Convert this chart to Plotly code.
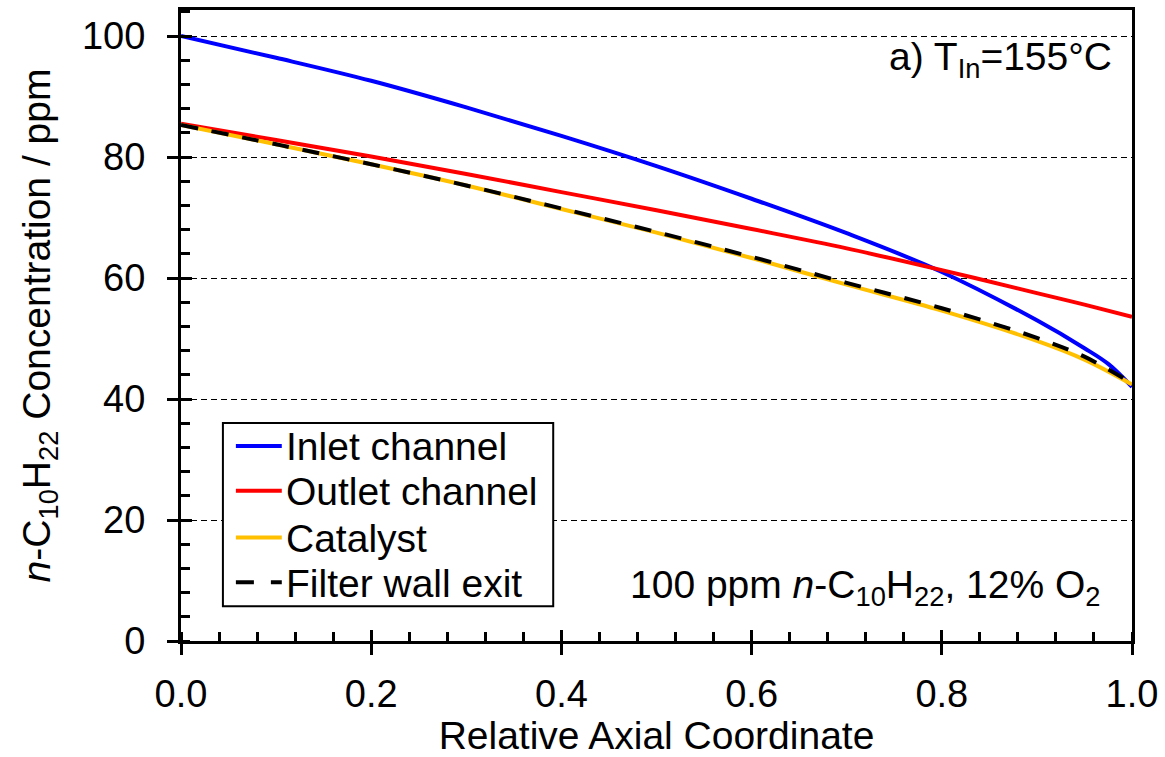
import plotly.graph_objects as go

# ---- data ----
x_inlet = [0.0, 0.1, 0.2, 0.3, 0.4, 0.5, 0.6, 0.7, 0.8, 0.9, 0.95, 0.975, 1.0]
inlet_channel = [100.0, 96.4, 92.6, 88.2, 83.5, 78.5, 73.1, 67.4, 61.0, 53.0, 48.4, 45.8, 42.0]

x_pos = [0.0, 0.1, 0.2, 0.3, 0.4, 0.5, 0.6, 0.7, 0.8, 0.9, 0.95, 1.0]
outlet_channel = [85.5, 82.8, 80.1, 77.2, 74.2, 71.2, 68.1, 64.9, 61.3, 57.5, 55.6, 53.6]
catalyst = [85.3, 82.1, 78.8, 75.3, 71.4, 67.5, 63.3, 58.9, 54.6, 49.6, 46.5, 42.4]
filter_wall_exit = [85.3, 82.1, 78.8, 75.3, 71.5, 67.6, 63.5, 59.2, 55.0, 50.1, 47.0, 42.6]

series_names = ["Inlet channel", "Outlet channel", "Catalyst", "Filter wall exit"]
series_colors = ["#0000FF", "#FF0000", "#FFC000", "black"]

x_ticks = [0.0, 0.2, 0.4, 0.6, 0.8, 1.0]
x_ticklabels = ["0.0", "0.2", "0.4", "0.6", "0.8", "1.0"]
y_ticks = [0, 20, 40, 60, 80, 100]
y_ticklabels = ["0", "20", "40", "60", "80", "100"]

FONT = "Liberation Sans, Arial, sans-serif"
FS = 39
SMOOTH = 1.0

fig = go.Figure()
fig.add_trace(go.Scatter(x=x_inlet, y=inlet_channel, mode="lines", name=series_names[0],
                         line=dict(color=series_colors[0], width=4, shape="spline", smoothing=SMOOTH)))
fig.add_trace(go.Scatter(x=x_pos, y=outlet_channel, mode="lines", name=series_names[1],
                         line=dict(color=series_colors[1], width=4, shape="spline", smoothing=SMOOTH)))
fig.add_trace(go.Scatter(x=x_pos, y=catalyst, mode="lines", name=series_names[2],
                         line=dict(color=series_colors[2], width=4, shape="spline", smoothing=SMOOTH)))
fig.add_trace(go.Scatter(x=x_pos, y=filter_wall_exit, mode="lines", name=series_names[3],
                         line=dict(color=series_colors[3], width=4, dash="17px,14px",
                                   shape="spline", smoothing=SMOOTH)))
# empty trace hosting the overlay axes (inner half of the crossing major ticks)
fig.add_trace(go.Scatter(x=[], y=[], xaxis="x2", yaxis="y2", showlegend=False, hoverinfo="skip"))

YMAX = 104.3

# ---- plot-area geometry in pixels (used only for the hand-drawn legend box) ----
PL, PR, PT, PB = 181, 1134, 7, 641


def px_x(p):
    return (p - PL) / (PR - PL)


def px_y(p):
    return (PB - p) / (PB - PT)


shapes = [
    dict(type="rect", xref="paper", yref="paper",
         x0=px_x(223), x1=px_x(554), y0=px_y(606), y1=px_y(422),
         line=dict(color="black", width=2), fillcolor="white", layer="above"),
]
annotations = []
item_y = [445, 490, 537, 582]
for name, color, yc in zip(series_names, series_colors, item_y):
    dash = "18px,17px" if name == "Filter wall exit" else "solid"
    shapes.append(dict(type="line", xref="paper", yref="paper",
                       x0=px_x(236), x1=px_x(282), y0=px_y(yc), y1=px_y(yc),
                       line=dict(color=color, width=4, dash=dash), layer="above"))
    annotations.append(dict(text=name, xref="paper", yref="paper",
                            x=px_x(284), y=px_y(yc + 1), xanchor="left", yanchor="middle",
                            showarrow=False, font=dict(family=FONT, size=FS, color="black")))

annotations += [
    dict(text="a) T<sub>In</sub>=155°C", xref="paper", yref="paper",
         x=0.981, y=0.922, xanchor="right", yanchor="middle", showarrow=False,
         font=dict(family=FONT, size=FS, color="black")),
    dict(text="100 ppm <i>n</i>-C<sub>10</sub>H<sub>22</sub>, 12% O<sub>2</sub>",
         xref="paper", yref="paper",
         x=0.968, y=0.085, xanchor="right", yanchor="middle", showarrow=False,
         font=dict(family=FONT, size=FS, color="black")),
]

fig.update_layout(
    width=1165, height=757,
    margin=dict(l=PL, r=1165 - PR, t=PT, b=757 - PB),
    paper_bgcolor="white", plot_bgcolor="white",
    font=dict(family=FONT, size=FS, color="black"),
    showlegend=False,
    xaxis=dict(
        range=[0, 1], tickvals=x_ticks, ticktext=x_ticklabels,
        showgrid=False, zeroline=False,
        showline=True, linecolor="black", linewidth=3, mirror=True,
        ticks="outside", ticklen=11, tickwidth=3, tickcolor="black",
        ticklabelstandoff=6,
        minor=dict(dtick=0.04, ticks="inside", ticklen=9, tickwidth=3, tickcolor="black", showgrid=False),
        title=dict(text="Relative Axial Coordinate", font=dict(size=FS), standoff=6),
        tickfont=dict(size=38),
    ),
    yaxis=dict(
        range=[0, YMAX], tickvals=y_ticks, ticktext=y_ticklabels,
        showgrid=True, gridcolor="black", gridwidth=1, griddash="6px,4px",
        zeroline=False,
        showline=True, linecolor="black", linewidth=3, mirror=True,
        ticks="outside", ticklen=11, tickwidth=3, tickcolor="black",
        ticklabelstandoff=14,
        minor=dict(dtick=4, ticks="inside", ticklen=9, tickwidth=3, tickcolor="black", showgrid=False),
        title=dict(text="<i>n</i>-C<sub>10</sub>H<sub>22</sub> Concentration / ppm",
                   font=dict(size=FS), standoff=20),
        tickfont=dict(size=38),
    ),
    xaxis2=dict(
        range=[0, 1], overlaying="x", anchor="y", side="bottom",
        tickvals=x_ticks, showticklabels=False, showgrid=False, zeroline=False, showline=False,
        ticks="inside", ticklen=11, tickwidth=3, tickcolor="black",
    ),
    yaxis2=dict(
        range=[0, YMAX], overlaying="y", anchor="x", side="left",
        tickvals=y_ticks, showticklabels=False, showgrid=False, zeroline=False, showline=False,
        ticks="inside", ticklen=11, tickwidth=3, tickcolor="black",
    ),
    shapes=shapes,
    annotations=annotations,
)

fig.write_html("out.html")
